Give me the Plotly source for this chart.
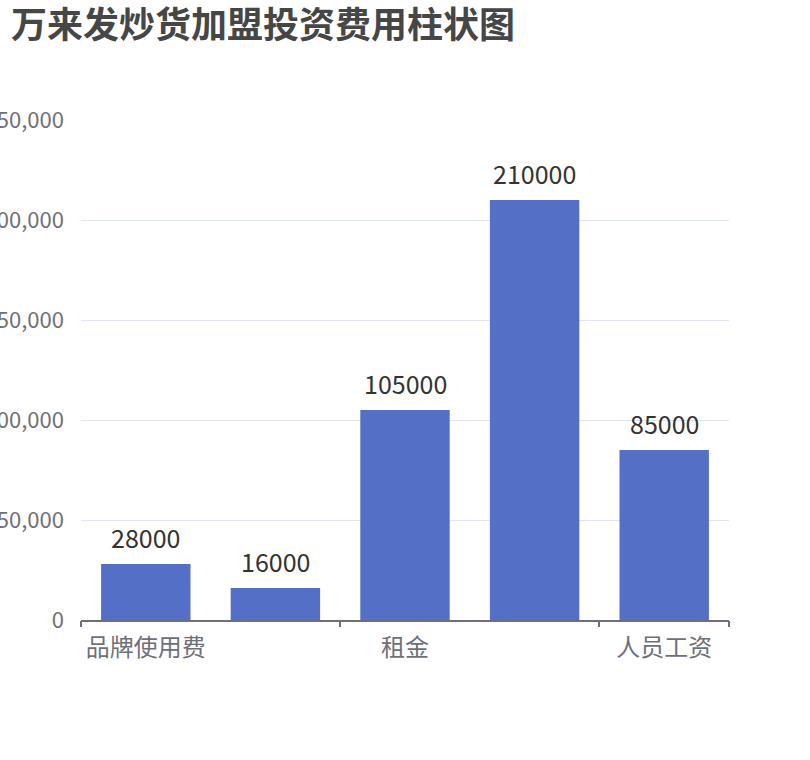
import plotly.graph_objects as go

# investment cost items (2nd and 4th labels are hidden by the axis interval)
categories = ["品牌使用费", "保证金", "租金", "装修费用", "人员工资"]
values = [28000, 16000, 105000, 210000, 85000]
shown_labels = [0, 2, 4]
y_ticks = [0, 50000, 100000, 150000, 200000, 250000]

axis_grey = "#6e7079"
font_cn = "Noto Sans CJK SC"

xs = list(range(len(categories)))

fig = go.Figure()
fig.add_trace(go.Bar(
    x=xs, y=values,
    marker=dict(color="#5470c6", line=dict(width=0)),
    hovertext=categories,
    hoverinfo="text+y",
    width=0.69,
))
# invisible trace so the boundary ticks axis exists
fig.add_trace(go.Scatter(x=[-0.5, 4.5], y=[0, 0], xaxis="x2", mode="markers",
                         marker=dict(opacity=0), hoverinfo="skip"))

for x, v in zip(xs, values):
    fig.add_annotation(x=x, y=v, text=str(v), showarrow=False,
                       yanchor="bottom", yshift=7,
                       font=dict(size=25, color="#333333", family=font_cn))

fig.update_layout(
    width=810, height=760,
    paper_bgcolor="white", plot_bgcolor="white",
    margin=dict(l=81, r=81, t=120, b=140, autoexpand=False),
    showlegend=False,
    title=dict(text="<b>万来发炒货加盟投资费用柱状图</b>", x=0.0136, xanchor="left",
               y=0.967, yanchor="middle", pad=dict(l=0),
               font=dict(size=36, color="#464646", family=font_cn)),
    xaxis=dict(
        range=[-0.5, 4.5], automargin=False,
        tickvals=[xs[i] for i in shown_labels],
        ticktext=[categories[i] for i in shown_labels],
        ticks="", showgrid=False, zeroline=False,
        showline=True, linecolor=axis_grey, linewidth=1.5,
        tickfont=dict(size=24, color=axis_grey, family=font_cn),
        ticklabelstandoff=5,
    ),
    xaxis2=dict(
        overlaying="x", anchor="y", side="bottom", automargin=False,
        range=[-0.5, 4.5],
        tickvals=[-0.5, 1.5, 3.5, 4.5],
        showticklabels=False, ticks="outside", ticklen=6, tickwidth=1.5,
        tickcolor=axis_grey, showgrid=False, zeroline=False, showline=False,
    ),
    yaxis=dict(
        range=[0, 250000], automargin=False,
        tickvals=y_ticks,
        tickformat=",d",
        showgrid=True, gridcolor="#e0e6f1", gridwidth=1.2,
        zeroline=False, showline=False, ticks="",
        tickfont=dict(size=22, color=axis_grey, family=font_cn),
        ticklabelstandoff=16,
    ),
)

# drop the default page margin so the chart sits at the window corner
fig.write_html("out.html", config={"displayModeBar": False},
               post_script="document.body.style.margin='0';")
